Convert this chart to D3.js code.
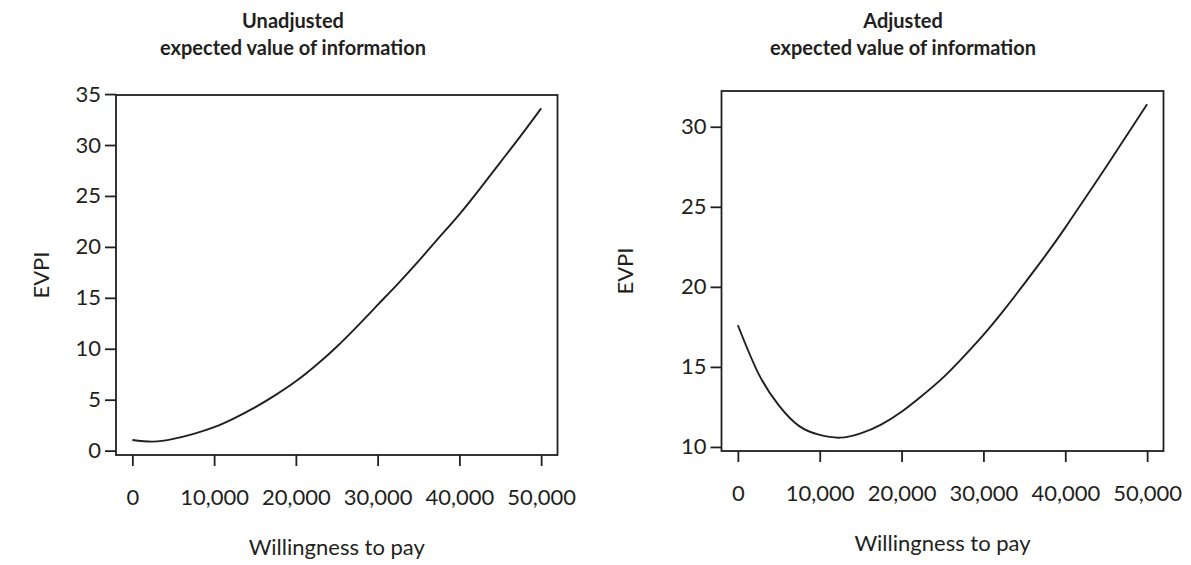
<!DOCTYPE html>
<html>
<head>
<meta charset="utf-8">
<script src="https://cdn.jsdelivr.net/npm/d3@7"></script>
<style>
  body { margin: 0; background: #fff; }
  svg { display: block; }
  text { font-family: Lato, "Open Sans", sans-serif; fill: #231f20; }
  .title { font-weight: bold; font-size: 20px; }
  .tick text { font-size: 22px; }
  .axis-title { font-size: 22px; }
</style>
</head>
<body>
<svg id="chart" width="1191" height="565"></svg>
<script>
// willingness-to-pay grid shared by both curves
var wtp = [0, 2500, 5000, 7500, 10000, 12500, 15000, 17500, 20000, 22500, 25000,
           27500, 30000, 32500, 35000, 37500, 40000, 42500, 45000, 47500, 50000];

// EVPI along the grid
var evpiUnadjusted = [1.05, 0.88, 1.15, 1.65, 2.3, 3.2, 4.25, 5.45, 6.8, 8.4, 10.2,
                      12.2, 14.3, 16.4, 18.6, 20.9, 23.2, 25.7, 28.3, 30.9, 33.6];
var evpiAdjusted = [17.6, 14.6, 12.6, 11.3, 10.75, 10.58, 10.85, 11.4, 12.2, 13.2, 14.3,
                    15.6, 17.0, 18.55, 20.2, 21.9, 23.7, 25.6, 27.5, 29.45, 31.4];

var xTicks = [0, 10000, 20000, 30000, 40000, 50000];
var yTicksUnadjusted = [0, 5, 10, 15, 20, 25, 30, 35];
var yTicksAdjusted = [10, 15, 20, 25, 30];

var svg = d3.select("#chart");

var panels = [
  { title: ["Unadjusted", "expected value of information"], values: evpiUnadjusted,
    yTicks: yTicksUnadjusted, left: 116, right: 557.5, top: 95, bottom: 455, titleX: 293, ylabX: 41 },
  { title: ["Adjusted", "expected value of information"], values: evpiAdjusted,
    yTicks: yTicksAdjusted, left: 721.5, right: 1163.5, top: 91, bottom: 451, titleX: 903, ylabX: 625 }
];

// R-style 4% padding around the data range
var padded = function (lo, hi) {
  var r = hi - lo;
  return [lo - 0.04 * r, hi + 0.04 * r];
};

panels.forEach(function (p) {
  var x = d3.scaleLinear().domain(padded(0, 50000)).range([p.left, p.right]);
  var y = d3.scaleLinear().domain(padded(d3.min(p.values), d3.max(p.values))).range([p.bottom, p.top]);
  var g = svg.append("g");

  g.selectAll("text.title")
    .data(p.title)
    .enter().append("text")
    .attr("class", "title")
    .attr("x", p.titleX)
    .attr("y", function (d, i) { return 28 + i * 27; })
    .attr("text-anchor", "middle")
    .text(function (d) { return d; });

  var xAxis = g.append("g")
    .attr("transform", "translate(0," + p.bottom + ")")
    .call(d3.axisBottom(x).tickValues(xTicks).tickSize(11).tickPadding(23).tickFormat(d3.format(",")));
  xAxis.select(".domain").remove();

  var yAxis = g.append("g")
    .attr("transform", "translate(" + p.left + ",0)")
    .call(d3.axisLeft(y).tickValues(p.yTicks).tickSize(11).tickPadding(4));
  yAxis.select(".domain").remove();

  g.selectAll(".tick line").attr("stroke", "#231f20").attr("stroke-width", 1.8);
  g.selectAll(".tick text").attr("fill", "#231f20");

  g.append("rect")
    .attr("x", p.left).attr("y", p.top)
    .attr("width", p.right - p.left).attr("height", p.bottom - p.top)
    .attr("fill", "none").attr("stroke", "#231f20").attr("stroke-width", 1.8);

  var line = d3.line()
    .x(function (d, i) { return x(wtp[i]); })
    .y(function (d) { return y(d); })
    .curve(d3.curveNatural);

  g.append("path")
    .datum(p.values)
    .attr("d", line)
    .attr("fill", "none")
    .attr("stroke", "#231f20")
    .attr("stroke-width", 1.9);

  g.append("text")
    .attr("class", "axis-title")
    .attr("x", (p.left + p.right) / 2)
    .attr("y", p.bottom + 100)
    .attr("text-anchor", "middle")
    .text("Willingness to pay");

  g.append("text")
    .attr("class", "axis-title")
    .attr("transform", "translate(" + (p.ylabX + 8) + "," + ((p.top + p.bottom) / 2) + ") rotate(-90)")
    .attr("text-anchor", "middle")
    .text("EVPI");
});
</script>
</body>
</html>
